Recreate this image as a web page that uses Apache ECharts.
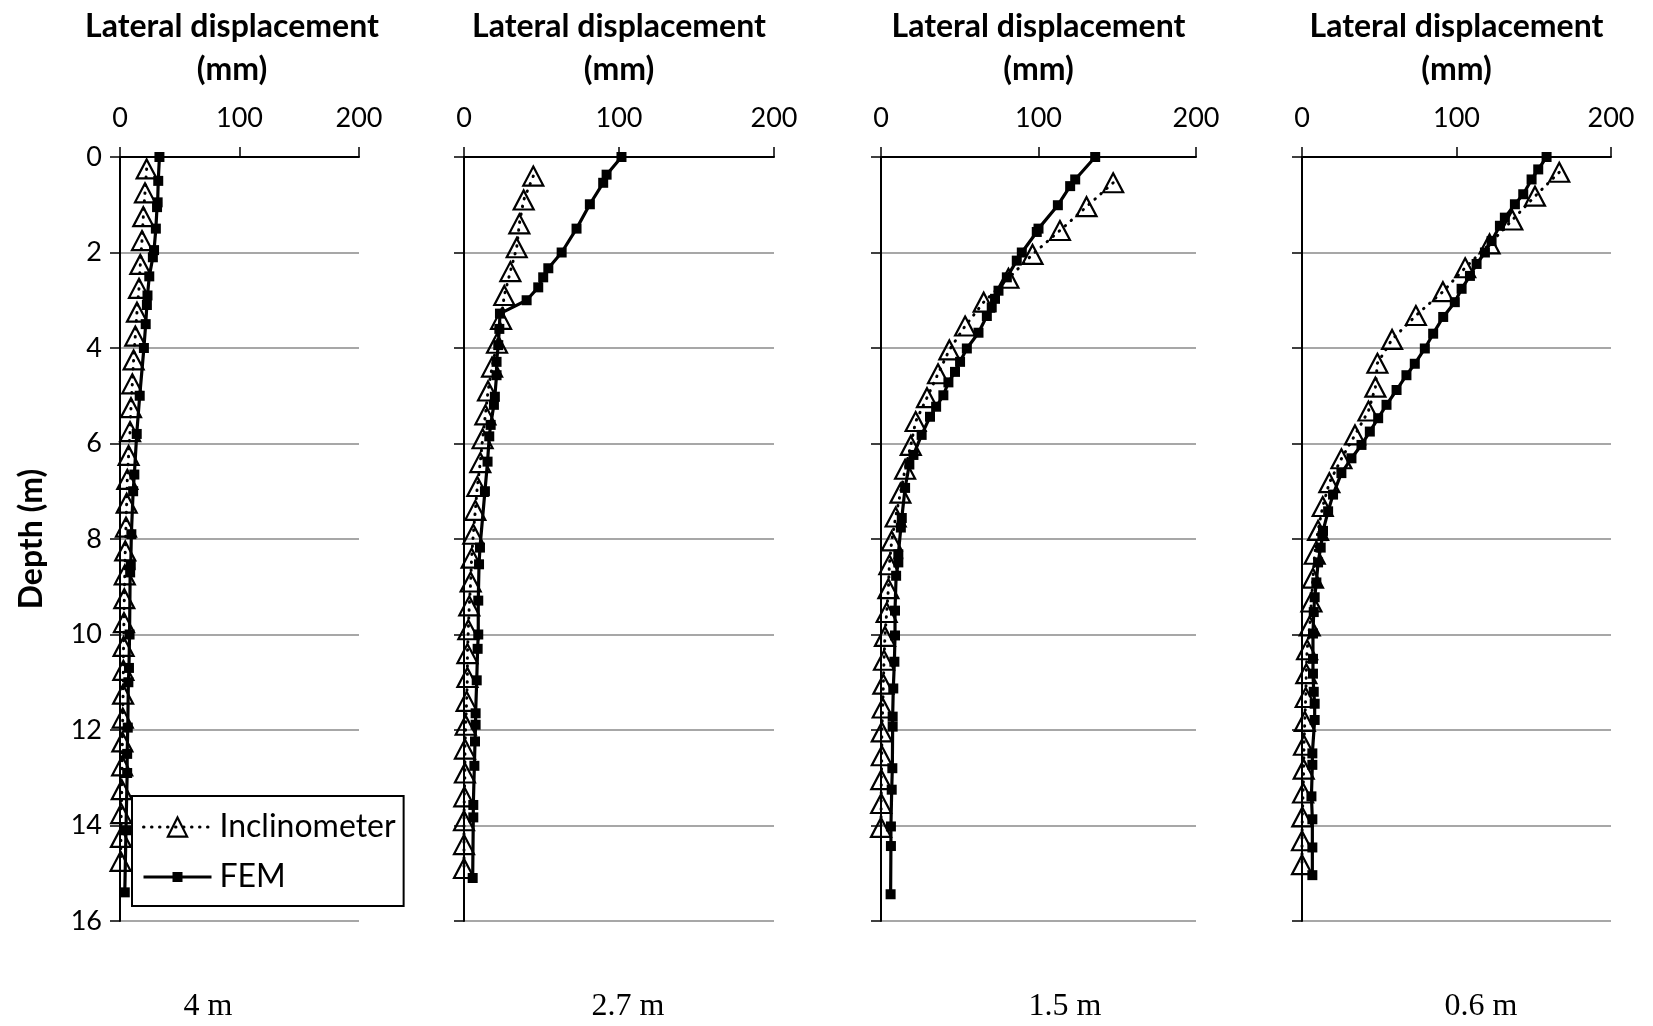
<!DOCTYPE html>
<html>
<head>
<meta charset="utf-8">
<script src="https://cdn.jsdelivr.net/npm/echarts@6/dist/echarts.min.js"></script>
<style>
  html, body { margin: 0; padding: 0; background: #fff; }
  #chart { width: 1653px; height: 1026px; }
</style>
</head>
<body>
<div id="chart"></div>
<script>
// Lateral displacement profiles vs depth for four cases, pairs are [depth (m), displacement (mm)]
const panelLabels = ['4 m', '2.7 m', '1.5 m', '0.6 m'];
const xTicks = [0, 100, 200];
const depthTicks = [0, 2, 4, 6, 8, 10, 12, 14, 16];

const incl_4m = [
  [0.25, 22.3], [0.75, 20.9], [1.25, 19.5], [1.75, 18.4], [2.25, 17.0], [2.75, 15.9],
  [3.25, 14.2], [3.75, 12.8], [4.25, 11.4], [4.75, 10.3], [5.25, 9.2], [5.75, 8.4],
  [6.25, 7.2], [6.75, 6.1], [7.25, 5.6], [7.75, 5.0], [8.25, 4.4], [8.75, 4.0],
  [9.25, 3.6], [9.75, 3.3], [10.25, 3.0], [10.75, 2.8], [11.25, 2.6], [11.75, 2.3],
  [12.25, 2.0], [12.75, 1.8], [13.25, 1.5], [13.75, 1.0], [14.25, 0.8], [14.75, 0.5]
];
const fem_4m = [
  [0, 33], [0.5, 32], [0.95, 31.5], [1.05, 31], [1.5, 30], [1.95, 28.5], [2.1, 27.5],
  [2.5, 24.5], [2.9, 23], [3.1, 22.5], [3.5, 21.5], [4.0, 20], [5.0, 16.5], [5.8, 14],
  [6.65, 12], [7.0, 11], [7.9, 9.5], [8.55, 9], [8.7, 8.5], [10.0, 8], [10.7, 7.5],
  [11.0, 7], [11.95, 6.5], [12.5, 6], [12.9, 6], [14.1, 5], [15.4, 4]
];

const incl_2_7m = [
  [0.4, 44.7], [0.9, 38.5], [1.4, 35.7], [1.9, 34.0], [2.4, 29.9], [2.9, 26.0],
  [3.4, 23.9], [3.9, 21.3], [4.4, 18.1], [4.9, 15.5], [5.4, 13.8], [5.9, 12.0],
  [6.4, 10.5], [6.9, 8.6], [7.4, 7.3], [7.9, 6.0], [8.4, 4.9], [8.9, 4.3],
  [9.4, 3.4], [9.9, 2.8], [10.4, 2.2], [10.9, 2.2], [11.4, 1.7], [11.9, 1.1],
  [12.4, 0.6], [12.9, 0.6], [13.4, 0.2], [13.9, 0], [14.4, 0], [14.9, 0]
];
const fem_2_7m = [
  [0, 101.6], [0.37, 92], [0.54, 89.8], [0.99, 81.2], [1.5, 72.6], [2.0, 63],
  [2.33, 54.4], [2.52, 51.1], [2.73, 47.9], [3.0, 40.4], [3.28, 23.2], [3.6, 22.8],
  [3.94, 22.1], [4.29, 21], [4.57, 21], [5.02, 19.9], [5.19, 19.3], [5.61, 17.2],
  [5.85, 16.3], [6.38, 15.2], [7.0, 13.5], [8.18, 10.3], [8.53, 9.7], [9.29, 9.2],
  [10.0, 9.2], [10.3, 8.8], [10.96, 8.2], [11.65, 7.5], [11.89, 7.5], [12.24, 7.1],
  [12.75, 6.7], [13.57, 6.0], [13.83, 6.0], [15.1, 5.6]
];

const incl_1_5m = [
  [0.54, 147.4], [1.04, 130.5], [1.54, 113.6], [2.04, 96.2], [2.54, 80.9], [3.04, 65.2],
  [3.54, 53.4], [4.04, 43.4], [4.54, 36.2], [5.04, 29.2], [5.54, 22.0], [6.04, 18.9],
  [6.54, 15.3], [7.04, 12.3], [7.54, 9.3], [8.04, 6.8], [8.54, 5.3], [9.04, 4.7],
  [9.54, 3.6], [10.04, 2.5], [10.54, 1.9], [11.04, 1.5], [11.54, 1.1], [12.04, 0.5],
  [12.54, 0.5], [13.04, 0.2], [13.54, 0.1], [14.04, 0]
];
const fem_1_5m = [
  [0, 136], [0.47, 123.3], [0.61, 120.1], [1.01, 112.3], [1.5, 100], [1.57, 98.9],
  [2.0, 89.4], [2.17, 86.2], [2.52, 79.9], [2.8, 74.6], [2.97, 72.4], [3.15, 70.3],
  [3.33, 67.2], [3.68, 61.9], [4.01, 54.5], [4.29, 50.2], [4.5, 47], [4.72, 42.8],
  [4.99, 39.6], [5.23, 35], [5.44, 31.1], [5.82, 25.8], [6.24, 20.6], [6.44, 18],
  [6.93, 15.3], [7.56, 13.2], [7.76, 12.6], [8.32, 11], [8.49, 11], [8.77, 9.6],
  [9.5, 8.9], [10.02, 8.9], [10.57, 8.5], [11.13, 7.8], [11.72, 7.4], [11.93, 7.4],
  [12.8, 7.2], [13.25, 6.8], [14.02, 6.3], [14.43, 6.3], [15.44, 6.1]
];

const incl_0_6m = [
  [0.32, 166.5], [0.82, 150.8], [1.32, 136.1], [1.82, 121.4], [2.32, 105.6], [2.82, 91.2],
  [3.32, 73.7], [3.82, 58.3], [4.32, 48.8], [4.82, 47.5], [5.32, 43.0], [5.82, 34.3],
  [6.32, 25.5], [6.82, 17.7], [7.32, 13.4], [7.82, 10.4], [8.32, 8.2], [8.82, 7.1],
  [9.32, 6.1], [9.82, 5.0], [10.32, 3.3], [10.82, 2.8], [11.32, 2.4], [11.82, 1.8],
  [12.32, 1.3], [12.82, 1.1], [13.32, 0.7], [13.82, 0.2], [14.32, 0], [14.82, 0]
];
const fem_0_6m = [
  [0, 158.3], [0.26, 152.9], [0.47, 148.6], [0.78, 143.2], [0.99, 137.8], [1.27, 131.3],
  [1.44, 128.1], [1.76, 122.7], [2.0, 118.4], [2.24, 113], [2.49, 108.7], [2.76, 103.3],
  [3.04, 98.9], [3.35, 91.4], [3.7, 84.9], [4.01, 79.5], [4.33, 73], [4.57, 67.6],
  [4.88, 61.2], [5.19, 54.7], [5.47, 49.3], [5.75, 43.9], [6.03, 38.5], [6.31, 32],
  [6.62, 25.5], [7.07, 20.1], [7.42, 16.9], [7.83, 13.6], [7.94, 13.2], [8.18, 12.1],
  [8.49, 10.4], [8.91, 9.3], [9.22, 8.2], [9.53, 7.6], [9.98, 7.1], [10.51, 7.1],
  [10.82, 7.1], [11.2, 7.6], [11.45, 8.2], [11.79, 8.2], [12.49, 6.7], [12.73, 6.7],
  [13.39, 6.1], [13.87, 6.7], [14.46, 6.7], [15.04, 6.7]
];

const inclSets = [incl_4m, incl_2_7m, incl_1_5m, incl_0_6m];
const femSets = [fem_4m, fem_2_7m, fem_1_5m, fem_0_6m];

// plot-area boxes for the four profiles
const grids = [
  { left: 120, top: 154, width: 239, height: 767 },
  { left: 464, top: 154, width: 310, height: 767 },
  { left: 881, top: 154, width: 315, height: 767 },
  { left: 1302, top: 154, width: 309, height: 767 }
];
const captionX = [208, 628, 1065, 1481];

const FONT = 'Lato, "Open Sans", sans-serif';

const xAxes = grids.map((g, i) => ({
  gridIndex: i,
  type: 'value',
  position: 'top',
  min: xTicks[0],
  max: xTicks[xTicks.length - 1],
  interval: xTicks[1] - xTicks[0],
  axisLine: { show: true, onZero: false, lineStyle: { color: '#000', width: 2 } },
  axisTick: { show: true, length: 10, lineStyle: { color: '#000', width: 1.5 } },
  axisLabel: { fontFamily: FONT, fontSize: 27, color: '#000', margin: 25 },
  splitLine: { show: false },
  name: 'Lateral displacement\n(mm)',
  nameLocation: 'middle',
  nameGap: 66,
  nameTextStyle: {
    fontFamily: FONT, fontWeight: 'bold', fontSize: 32, lineHeight: 43, color: '#000',
    padding: i === 0 ? [0, 15, 0, 0] : 0
  }
}));

const yAxes = grids.map((g, i) => ({
  gridIndex: i,
  type: 'value',
  inverse: true,
  min: depthTicks[0],
  max: depthTicks[depthTicks.length - 1],
  interval: depthTicks[1] - depthTicks[0],
  axisLine: { show: true, onZero: false, lineStyle: { color: '#000', width: 2 } },
  axisTick: { show: true, length: 10, lineStyle: { color: '#000', width: 1.5 } },
  axisLabel: { show: i === 0, fontFamily: FONT, fontSize: 27, color: '#000', margin: 18 },
  splitLine: { show: true, lineStyle: { color: '#8a8a8a', width: 1.6 } },
  name: i === 0 ? 'Depth (m)' : '',
  nameLocation: 'middle',
  nameRotate: 90,
  nameGap: 68,
  nameTextStyle: { fontFamily: FONT, fontWeight: 'bold', fontSize: 32, lineHeight: 40, color: '#000' }
}));

// round dots along the inclinometer trace
const dotted = { color: '#000', width: 3, type: [0.5, 7.5], cap: 'round' };

const series = [];
grids.forEach((g, i) => {
  series.push({
    name: 'Inclinometer',
    type: 'line',
    xAxisIndex: i,
    yAxisIndex: i,
    data: inclSets[i],
    encode: { x: 1, y: 0 },
    symbol: 'triangle',
    symbolSize: [20, 19],
    lineStyle: dotted,
    itemStyle: { color: 'rgba(0,0,0,0)', borderColor: '#000', borderWidth: 2.2 },
    silent: true,
    z: 3
  });
  series.push({
    name: 'FEM',
    type: 'line',
    xAxisIndex: i,
    yAxisIndex: i,
    data: femSets[i],
    encode: { x: 1, y: 0 },
    symbol: 'rect',
    symbolSize: 10,
    lineStyle: { color: '#000', width: 3.2 },
    itemStyle: { color: '#000', borderWidth: 0 },
    silent: true,
    z: 4
  });
});

const option = {
  backgroundColor: '#fff',
  animation: false,
  textStyle: { fontFamily: FONT },
  grid: grids.map(g => Object.assign({ containLabel: false }, g)),
  xAxis: xAxes,
  yAxis: yAxes,
  legend: {
    orient: 'vertical',
    left: 132,
    top: 796,
    selectedMode: false,
    itemWidth: 68,
    itemHeight: 24,
    itemGap: 16,
    padding: [14, 8, 12, 10],
    borderColor: '#000',
    borderWidth: 2,
    borderRadius: 0,
    backgroundColor: '#fff',
    textStyle: { fontFamily: FONT, fontSize: 32, lineHeight: 34, color: '#000', padding: [0, 0, 0, 3] },
    data: [
      {
        name: 'Inclinometer',
        lineStyle: dotted,
        itemStyle: { color: 'rgba(0,0,0,0)', borderColor: '#000', borderWidth: 2.2 }
      },
      {
        name: 'FEM',
        icon: 'path://M0,10.4L68,10.4L68,13.6L0,13.6Z M29,7L39,7L39,17L29,17Z',
        itemStyle: { color: '#000' }
      }
    ]
  },
  graphic: panelLabels.map((t, i) => ({
    type: 'text',
    x: captionX[i],
    y: 1007,
    silent: true,
    style: {
      text: t,
      fontFamily: '"Liberation Serif", "Times New Roman", serif',
      fontSize: 32,
      fill: '#000',
      align: 'center',
      verticalAlign: 'middle'
    }
  })),
  series: series
};

const chart = echarts.init(document.getElementById('chart'), null, { renderer: 'canvas' });
chart.setOption(option);
</script>
</body>
</html>
